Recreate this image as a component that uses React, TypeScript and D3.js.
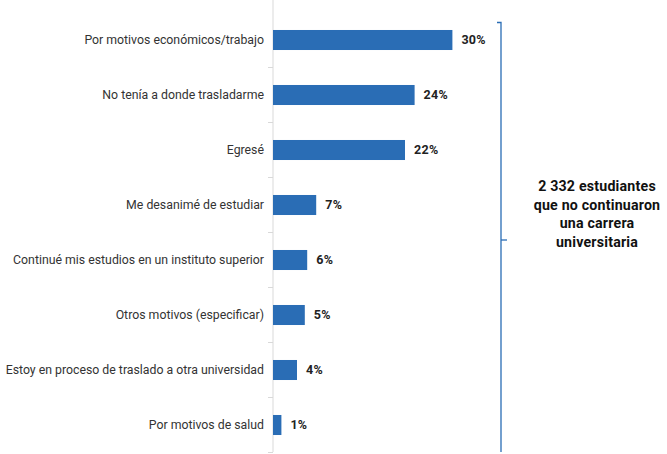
import React from "react";
import * as d3 from "d3";

const categories = [
  "Por motivos económicos/trabajo",
  "No tenía a donde trasladarme",
  "Egresé",
  "Me desanimé de estudiar",
  "Continué mis estudios en un instituto superior",
  "Otros motivos (especificar)",
  "Estoy en proceso de traslado a otra universidad",
  "Por motivos de salud",
];
const values = [29.9, 23.6, 22.0, 7.2, 5.7, 5.3, 4.0, 1.4];
const valueLabels = ["30%", "24%", "22%", "7%", "6%", "5%", "4%", "1%"];
const noteLines = ["2 332 estudiantes", "que no continuaron", "una carrera", "universitaria"];

const W = 667;
const H = 454;
const BLUE = "#2a6db5";
const FONT = "Roboto, 'Noto Sans', sans-serif";

export default function App() {
  const x = d3.scaleLinear().domain([0, 30]).range([273, 453]);
  const y = d3.scaleBand<string>().domain(categories).range([12.5, 452.5]).paddingInner(0.636).paddingOuter(0.318);
  const step = y.step();
  const top = 12.5;
  const ticks = d3.range(categories.length + 1).map((i) => top + i * step);
  return (
    <svg width={W} height={H} style={{ position: "absolute", left: 0, top: 0, background: "#fff" }}>
      <line x1={273} x2={273} y1={0} y2={452} stroke="#d9d9d9" strokeWidth={1} />
      {ticks.slice(1).map((t, i) => (
        <line key={i} x1={268} x2={273} y1={t} y2={t} stroke="#d9d9d9" strokeWidth={1} />
      ))}
      {categories.map((c, i) => {
        const by = y(c)!;
        const bw = y.bandwidth();
        const cy = by + bw / 2;
        return (
          <g key={c}>
            <rect x={x(0)} y={by} width={x(values[i]) - x(0)} height={bw} fill={BLUE} />
            <text x={264} y={cy} dy="0.35em" textAnchor="end" fontFamily={FONT} fontSize={12.3} fill="#333">
              {c}
            </text>
            <text x={x(values[i]) + 9} y={cy} dy="0.35em" fontFamily={FONT} fontSize={12.5} fontWeight={700} fill="#222" letterSpacing={0.3}>
              {valueLabels[i]}
            </text>
          </g>
        );
      })}
      <path d="M497,22.5 H501 V452" fill="none" stroke={BLUE} strokeWidth={1.3} />
      <line x1={501} x2={507} y1={240} y2={240} stroke={BLUE} strokeWidth={1.3} />
      {noteLines.map((l, i) => (
        <text key={i} x={597} y={191 + i * 18.7} textAnchor="middle" fontFamily={FONT} fontSize={14.2} fontWeight={700} fill="#111" letterSpacing={0.2}>
          {l}
        </text>
      ))}
    </svg>
  );
}
